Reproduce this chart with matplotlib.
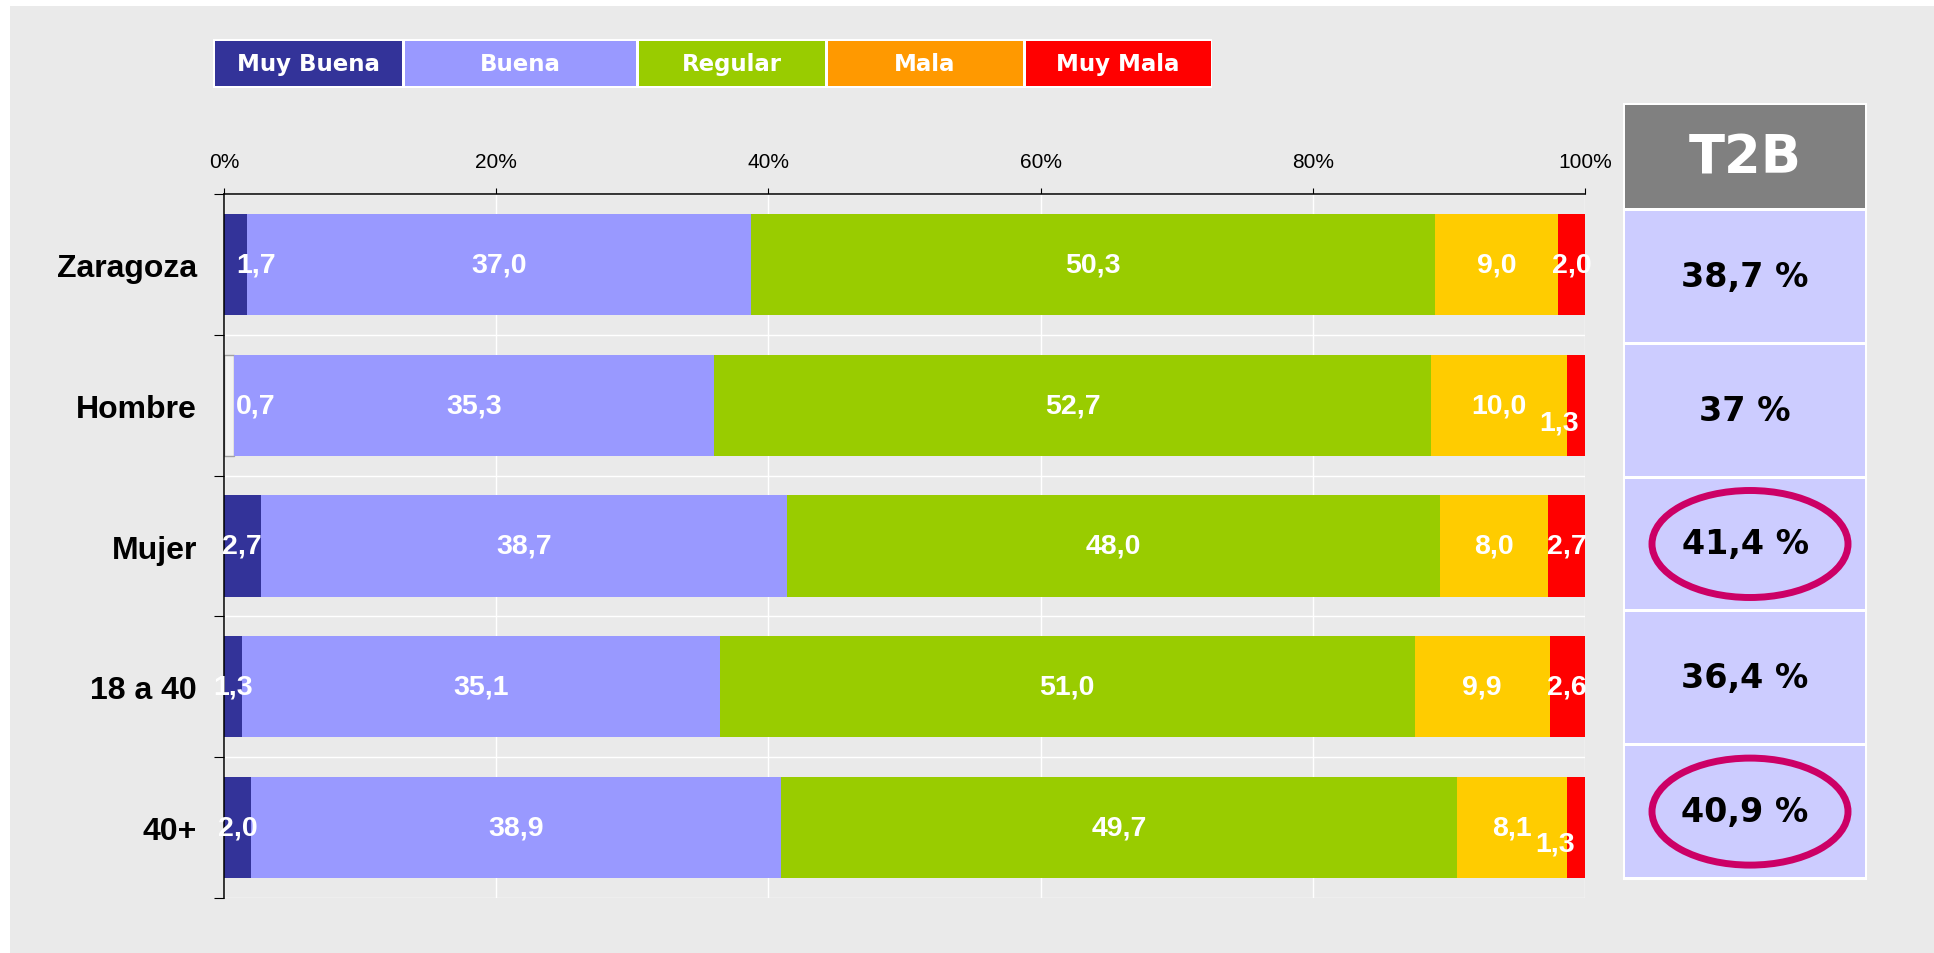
import matplotlib
matplotlib.use('Agg')
import matplotlib.pyplot as plt
from matplotlib.patches import Rectangle, Ellipse
import numpy as np

# ---------------- data ----------------
categories = ['Zaragoza', 'Hombre', 'Mujer', '18 a 40', '40+']
series_names = ['Muy Buena', 'Buena', 'Regular', 'Mala', 'Muy Mala']
muy_buena = [1.7, 0.7, 2.7, 1.3, 2.0]
buena = [37.0, 35.3, 38.7, 35.1, 38.9]
regular = [50.3, 52.7, 48.0, 51.0, 49.7]
mala = [9.0, 10.0, 8.0, 9.9, 8.1]
muy_mala = [2.0, 1.3, 2.7, 2.6, 1.3]
t2b = [38.7, 37, 41.4, 36.4, 40.9]
highlighted = ['Mujer', '40+']
x_ticks = [0, 20, 40, 60, 80, 100]

# ---------------- style ----------------
W, H = 1934, 954
BG = '#EAEAEA'
bar_colors = ['#333399', '#9999FF', '#99CC00', '#FFCC00', '#FF0000']
legend_colors = ['#333399', '#9999FF', '#99CC00', '#FF9900', '#FF0000']
special_face = {(1, 0): ('#F2F2F2', '#A0A0A0')}
# label nudges in pixels (right, down)
label_nudge = {(0, 0): (20, 0), (1, 0): (27, 0), (1, 4): (-17, 17), (4, 4): (-21, 16)}
SANS = ['Liberation Sans', 'DejaVu Sans']
VERD = ['DejaVu Sans']

fig = plt.figure(figsize=(W / 100, H / 100), dpi=100)
fig.patch.set_facecolor('white')

bg = fig.add_axes([0, 0, 1, 1], zorder=0)
bg.set_xlim(0, W)
bg.set_ylim(H, 0)
bg.axis('off')
bg.add_patch(Rectangle((10, 7), W - 10, H - 7, facecolor=BG, edgecolor='none'))

# ---------------- main chart ----------------
ax = fig.add_axes([224 / W, 1 - 899 / H, 1361 / W, 704 / H], zorder=1)
ax.patch.set_alpha(0)

series = [muy_buena, buena, regular, mala, muy_mala]
data = np.array(series, dtype=float)  # shape (5 series, 5 cats)
totals = data.sum(axis=0)
pct = data / totals * 100
y = np.arange(len(categories))
left = np.zeros(len(categories))
for s in range(len(series)):
    for c in range(len(categories)):
        fc, ec = special_face.get((c, s), (bar_colors[s], 'none'))
        ax.barh(y[c], pct[s, c], left=left[c], height=0.72, color=fc,
                edgecolor=ec, linewidth=1 if ec != 'none' else 0, zorder=2)
        txt = f"{data[s, c]:.1f}".replace('.', ',')
        dx, dy = label_nudge.get((c, s), (0, 0))
        ax.annotate(txt, (left[c] + pct[s, c] / 2, y[c]), xytext=(dx, -dy),
                    textcoords='offset pixels', ha='center', va='center',
                    color='white', fontsize=20.5, fontweight='bold',
                    family=SANS, zorder=3)
    left += pct[s]

ax.set_xlim(0, 100)
ax.set_ylim(len(categories) - 0.5, -0.5)
ax.xaxis.tick_top()
ax.set_xticks(x_ticks)
ax.set_xticklabels([f"{t}%" for t in x_ticks], fontsize=15, family=SANS)
ax.tick_params(axis='x', length=4.3, width=0.8, pad=12, direction='out')
ax.set_yticks(y)
ax.set_yticklabels(categories, fontsize=23, fontweight='bold', family=SANS)
ax.tick_params(axis='y', which='major', length=0, pad=19.4)
ax.set_yticks(np.arange(len(categories) + 1) - 0.5, minor=True)
ax.tick_params(axis='y', which='minor', length=7.2, width=0.8, direction='out')
ax.set_axisbelow(True)
ax.grid(axis='x', which='major', color='white', linewidth=1)
ax.grid(axis='y', which='minor', color='white', linewidth=1)
for side in ['right', 'bottom']:
    ax.spines[side].set_visible(False)
for side in ['top', 'left']:
    ax.spines[side].set_color('black')
    ax.spines[side].set_linewidth(1.1)

# ---------------- legend ----------------
leg_edges = [213, 403.5, 637, 826, 1024, 1212]
bg.add_patch(Rectangle((213, 40), 1212 - 213, 49, facecolor='white', edgecolor='none'))
for i, name in enumerate(series_names):
    x0, x1 = leg_edges[i] + 1.5, leg_edges[i + 1] - 1.5
    bg.add_patch(Rectangle((x0, 42), x1 - x0, 45, facecolor=legend_colors[i], edgecolor='none'))
    bg.text((x0 + x1) / 2, 64.5, name, ha='center', va='center', color='white',
            fontsize=16.5, fontweight='bold', family=VERD)

# ---------------- T2B panel ----------------
px0, px1 = 1623, 1867
bg.add_patch(Rectangle((px0, 104), px1 - px0, 881 - 104, facecolor='white', edgecolor='none'))
bg.add_patch(Rectangle((px0 + 2, 106), px1 - px0 - 4, 103, facecolor='#808080', edgecolor='none'))
bg.text((px0 + px1) / 2, 158, 'T2B', ha='center', va='center', color='white',
        fontsize=38, fontweight='bold', family=VERD)
top, bottom, gap = 212, 878, 3
n = len(categories)
rh = (bottom - top - gap * (n - 1)) / n
for i, v in enumerate(t2b):
    r0 = top + i * (rh + gap)
    bg.add_patch(Rectangle((px0 + 2, r0), px1 - px0 - 4, rh, facecolor='#CCCCFF', edgecolor='none'))
    cy = r0 + rh / 2
    label = f"{v:g}".replace('.', ',') + ' %'
    bg.text((px0 + px1) / 2, cy, label, ha='center', va='center', color='black',
            fontsize=24, fontweight='bold', family=VERD)
    if categories[i] in highlighted:
        bg.add_patch(Ellipse((1750, cy), 196, 107, facecolor='none',
                             edgecolor='#CC0066', linewidth=5))

fig.savefig('out.png', dpi=100)
